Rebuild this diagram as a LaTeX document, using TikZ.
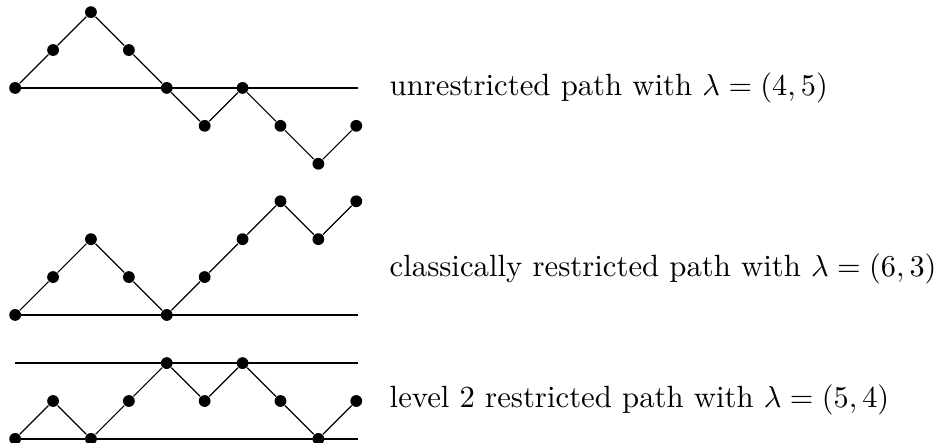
\documentclass[tikz,border=0pt]{standalone}
\usepackage{amsmath}
\usepackage{tikz}
\usetikzlibrary{positioning}
\tikzset{
  dot/.style={circle, fill=black, inner sep=0pt, minimum size=3.9pt},
  wall/.style={line width=0.8pt},
  walk/.style={line width=0.4pt},
  caption/.style={anchor=west, font=\fontsize{10.15}{12}\selectfont},
}

\begin{document}
\begin{tikzpicture}[x=0.44cm, y=0.44cm]
    \useasboundingbox (-0.4, -0.1) rectangle (24.56, 11.58);

    \foreach \h [count=\i from 0] in {0,1,2,1,0,-1,0,-1,-2,-1}
      \node [dot] (u\i) at (\i, 9.26+\h) {};
    \foreach \h [count=\i from 0] in {0,1,2,1,0,1,2,3,2,3}
      \node [dot] (c\i) at (\i, 3.27+\h) {};
    \foreach \h [count=\i from 0] in {0,1,0,1,2,1,2,1,0,1}
      \node [dot] (l\i) at (\i, \h) {};

    \coordinate (uend) at (9.05, 9.26);
    \coordinate (cend) at (9.05, 3.27);
    \coordinate (lend) at (9.05, 0);
    \coordinate (ltop) at (0, 2);
    \coordinate (ltopend) at (9.05, 2);

    \draw [wall] (u0.center) -- (uend);
    \draw [wall] (c0.center) -- (cend);
    \draw [wall] (l0.center) -- (lend);
    \draw [wall] (ltop) -- (ltopend);

    \foreach \i [count=\j from 1] in {0,...,8} {
      \draw [walk] (u\i) -- (u\j);
      \draw [walk] (c\i) -- (c\j);
      \draw [walk] (l\i) -- (l\j);
    }

    \node [caption] (utext) at (9.6, 9.26) {unrestricted path with $\lambda=(4,5)$};
    \node [caption] (ctext) at (9.6, 4.48) {classically restricted path with $\lambda=(6,3)$};
    \node [caption] (ltext) at (9.6, 1.03) {level 2 restricted path with $\lambda=(5,4)$};
  \end{tikzpicture}
\end{document}
